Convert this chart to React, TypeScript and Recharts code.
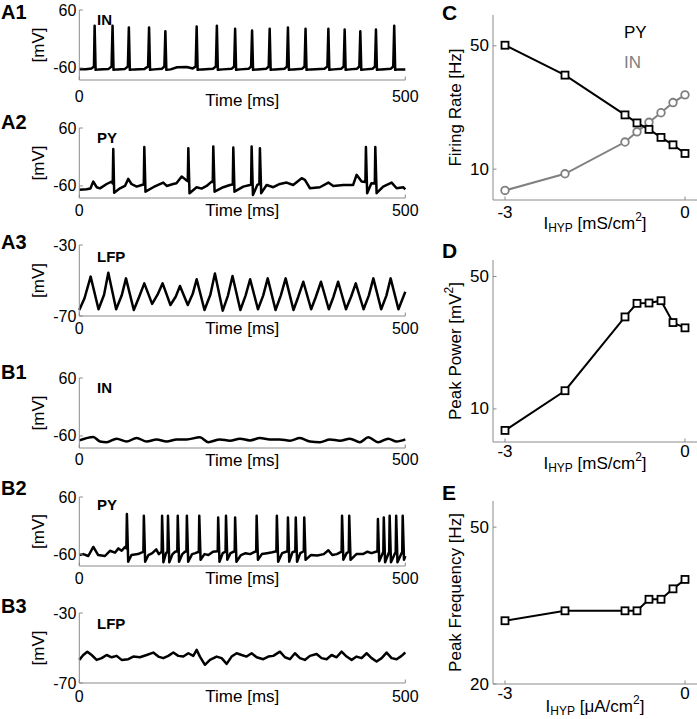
import React from 'react';
import { LineChart, Line, XAxis, YAxis, Label } from 'recharts';

const FONT = '"Liberation Sans", Arial, Helvetica, sans-serif';
const AXIS = '#8a8a8a';
const GRAY = '#808080';

// ---------- traces: [time ms, voltage mV] ----------
const A1_IN: number[][] = [
  [0,-62.5],[10,-62.5],[19,-61],[22.5,-57],[23.5,27.6],[25,-64],[30,-63],[45,-62],[49.5,-57],[51,27.6],[52.5,-64],[58,-63],
  [70,-62],[74.5,-57],[76,24],[77.5,-64],[84,-63],[100,-62],[105.5,-57],[107,24],[108.5,-64],[115,-63],[127,-61.5],[130.5,-57],
  [132,16],[133.5,-64],[140,-63],[150,-58.5],[165,-58],[174,-61],[178.5,-57],[180,26],[181.5,-64],[188,-63],[205,-61.5],
  [209.5,-57],[211,27.6],[212.5,-64],[220,-63],[234,-61.5],[237.5,-57],[239,21],[240.5,-64],[247,-63],[260,-61.5],[263.5,-57],
  [265,17.5],[266.5,-64],[273,-63],[287,-61.5],[290.5,-57],[292,21],[293.5,-64],[300,-63],[315,-61.5],[318.5,-57],[320,24],
  [321.5,-64],[328,-63],[342,-61.5],[345.5,-57],[347,21],[348.5,-64],[355,-63],[376,-61.5],[380.5,-57],[382,21],[383.5,-64],
  [390,-63],[402,-61.5],[405.5,-57],[407,19.5],[408.5,-64],[415,-63],[426,-61.5],[429.5,-57],[431,16],[432.5,-64],[439,-63],
  [450,-61.5],[453.5,-57],[455,19.5],[456.5,-64],[463,-63],[478,-61.5],[481.5,-57],[483,27.6],[484.5,-64],[491,-63],[500,-63],
];

const A2_PY: number[][] = [
  [0,-68],[11,-67],[17,-65.5],[21.5,-51],[26.6,-62.7],[31.7,-65],[42,-56],[49.6,-51],[51.3,-55],[52.1,16.3],[53.5,-74],
  [62.4,-65],[70,-60],[75.1,-45.4],[80,-56],[88,-61.4],[95.6,-58],[98.9,-57],[99.7,20.4],[101.5,-71.8],[113.5,-62.7],
  [121,-58],[128.8,-53],[134,-60],[139,-58],[144,-56],[149,-54.4],[157,-40.5],[163.5,-47.5],[166.4,-50],[167.2,18.3],
  [169,-75],[180,-62.7],[187.6,-65.5],[195.3,-60],[203,-51],[204.7,-52],[205.5,21.9],[207.5,-71.8],[220.8,-62.7],[231,-58],
  [235.4,-57],[236.2,19.7],[238,-71.8],[251.5,-61.4],[261.7,-58],[263.5,-57],[264.3,21.9],[266.3,-78.7],[273,-58],
  [276.2,-56],[277,18.3],[279,-75],[287.3,-58],[297.5,-62.7],[307.7,-55.8],[318,-53],[328,-58],[341,-44],[346,-47.5],
  [353.8,-64.8],[369,-62.7],[382,-53],[389.5,-60],[405,-58],[420,-58],[425.3,-37],[433,-51],[438.8,-52],[439.6,20.4],
  [441.5,-75],[448,-54.4],[453.2,-55],[454,20.4],[456,-75],[466,-61.4],[479,-53],[486.7,-64.8],[497,-62.7],[500,-67],
];

const A3_LFP: number[][] = [
  [0,-66.6],[8,-60],[17.4,-47.8],[29.5,-66.2],[38,-58],[44.5,-45.6],[56.5,-66.2],[65,-58.5],[71.6,-48.8],[83.6,-66.6],
  [92,-59],[99.7,-51.6],[111.7,-63.2],[120,-58],[127.8,-51.6],[139.8,-63.8],[148,-59],[154.4,-53.1],[166.4,-63.8],
  [174,-57.5],[180,-49.3],[192,-66.6],[201,-58],[208,-46],[220,-67],[228,-58.5],[235,-47.5],[247,-66.6],[255,-58.5],
  [262,-49.3],[274,-66.2],[282,-58.5],[289,-48.8],[301,-66.6],[309,-58.5],[316.5,-48.8],[328.5,-66.6],[336,-59],
  [343.6,-50.7],[355.6,-66.2],[363,-59],[370.7,-50.7],[382.7,-66.2],[390,-59],[397,-50.7],[409,-66.2],[417,-59],
  [424,-51.6],[436,-66.2],[444,-58.5],[451,-48.8],[463,-66.2],[471,-58.5],[477.5,-48.8],[489.5,-66.2],[500,-56.3],
];

const B1_IN: number[][] = [
  [0,-69.3],[21.5,-62.1],[31.7,-71.5],[41.9,-72.9],[57.3,-65.7],[72.6,-71.5],[87.9,-64.3],[103.3,-71.5],[118.6,-67.2],
  [134,-71.5],[149.3,-67.2],[164.6,-67.2],[185,-62.8],[197.8,-72.9],[215.7,-67.2],[231,-70],[246.4,-65.7],[261.7,-69.3],
  [277,-64.3],[292.4,-67.2],[307.7,-67.2],[323,-70],[338.4,-64.3],[353.7,-71.5],[369,-72.9],[384.4,-67.2],[399.8,-70],
  [415,-65.7],[430.4,-72.9],[443.2,-62.8],[458.5,-72.9],[473.9,-65.7],[486.7,-71.5],[500,-67.2],
];

const B2_PY: number[][] = [
  [0,-62],[6,-60],[13.8,-64],[21.5,-45],[29,-62],[39.4,-64],[47,-53],[54.7,-57],[60,-48],[65,-53],[70,-45],[72.2,-48],
  [73,24.3],[75,-76],[80,-62],[90,-60],[97,-56],[98.3,-55],
  [99,20.7],[101,-76],[106,-62],[112,-58],[118,-50],[122,-60],[126.3,-55],
  [127,20.7],[129,-77],[133,-58],[135.3,-55],
  [136,20.7],[138,-77],[143,-60],[147,-55],[150.3,-54],
  [151,20.7],[153,-76],[158,-60],[162,-55],[164.3,-54],
  [165,20.7],[167,-76],[173,-60],[178,-58],[183.3,-55],
  [184,20.7],[186,-72],[192,-60],[198,-62],[205,-55],[212.3,-54],
  [213,17.1],[215,-76],[220,-58],[224.3,-55],
  [225,20.7],[227,-72],[232,-58],[238.3,-54],
  [239,17.1],[241,-76],[248,-62],[255,-58],[262,-60],[268,-56],[271.3,-54],
  [272,20.7],[274,-72],[280,-60],[288,-58],[296,-56],[302.3,-54],
  [303,20.7],[305,-76],[311,-58],[319.3,-54],
  [320,17.1],[322,-76],[327,-56],[331.3,-54],
  [332,17.1],[334,-76],[339,-58],[344.3,-54],
  [345,17.1],[347,-72],[355,-62],[365,-63],[375,-60],[382,-52],[388,-62],[395,-60],[402.3,-55],
  [403,20.7],[405,-72],[410,-58],[413.3,-55],
  [414,20.7],[416,-72],[425,-60],[435,-60],[442,-55],[448,-58],[457.3,-54],
  [458,13.6],[460,-75],[466.3,-55],
  [467,17.1],[469,-77],[475.3,-55],
  [476,20.7],[478,-77],[485.3,-55],
  [486,20.7],[488,-77],[495.3,-55],
  [496,20.7],[498,-72],[500,-64],
];

const B3_LFP: number[][] = [
  [0,-56.8],[6.1,-54],[12.3,-52.1],[18.9,-54],[26.6,-56.8],[34.3,-55.8],[41.9,-54],[49.6,-55.3],[57.3,-54.5],[64.9,-56.8],
  [75.1,-56.4],[82.8,-54.9],[93,-55.3],[103.3,-54],[113.5,-52.6],[121.2,-54.9],[128.8,-55.8],[136.5,-54.5],[144.2,-52.6],
  [151.8,-54.5],[159.5,-54.9],[167.2,-53],[174.8,-54.5],[180,-51.1],[185,-54.9],[192.7,-59.6],[200.4,-56.8],[210.6,-54.9],
  [218.3,-55.8],[226,-59.1],[233.6,-54.9],[241.3,-53],[249,-54],[256.6,-54.9],[264.3,-53],[272,-55.3],[282.2,-56.4],
  [289.9,-54.9],[297.5,-54.5],[307.7,-52.1],[315.4,-55.3],[323,-56.4],[330.7,-53],[338.4,-55.8],[346,-56.8],[353.7,-54.5],
  [364,-53.4],[371.6,-55.8],[379.3,-56.4],[387,-54],[394.6,-55.3],[402.3,-52.1],[410,-54.9],[417.7,-56.8],[425.3,-54.9],
  [433,-55.8],[440.7,-53],[448.3,-55.8],[456,-57.7],[463.7,-55.8],[471.3,-52.6],[479,-55.8],[486.7,-56.4],[494.3,-54.5],
  [500,-52.6],
];

const TIME_TICKS = [0, 500];
const SPIKE_DOMAIN = [-85, 60];
const SPIKE_TICKS = [-60, 60];
const LFP_DOMAIN = [-70, -30];
const LFP_TICKS = [-70, -30];

// ---------- right column ----------
const I_HYP = [-3, -2, -1, -0.8, -0.6, -0.4, -0.2, 0];
const RATE_PY = [50.2, 40.5, 27.6, 25.0, 22.9, 20.3, 17.9, 15.1];
const RATE_IN = [3.1, 8.5, 18.8, 22.1, 25.2, 28.3, 31.6, 34.1];
const PEAK_POWER = [3.5, 15.5, 37.8, 41.9, 42.0, 42.7, 36.1, 34.5];
const PEAK_FREQ = [32.1, 34.0, 34.0, 34.0, 36.2, 36.2, 38.2, 40.0];
const I_TICKS = [-3, 0];

const toRows = (pts: number[][]) => pts.map(([t, v]) => ({ t, v }));

const makeXTick = (off: number, fs: number) => (p: any) => (
  <g key={`xt-${p.payload.value}`}>
    <line x1={p.x} x2={p.x} y1={p.y - off} y2={p.y - off - 3.5} stroke={AXIS} strokeWidth={1} />
    <text x={p.x} y={p.y} textAnchor="middle" dominantBaseline="central" fontSize={fs} fontFamily={FONT} fill="#000">
      {p.payload.value}
    </text>
  </g>
);

const makeYTick = (m: number, fs: number) => (p: any) => (
  <g key={`yt-${p.payload.value}`}>
    <line x1={p.x + m} x2={p.x + m + 3.5} y1={p.y} y2={p.y} stroke={AXIS} strokeWidth={1} />
    <text x={p.x} y={p.y} textAnchor="end" dominantBaseline="central" fontSize={fs} fontFamily={FONT} fill="#000">
      {p.payload.value}
    </text>
  </g>
);

function TracePanel({ top, h, pts, domain, ticks, tickOff, titleOff, curve }: any) {
  const H = 10 + h + 40;
  return (
    <div style={{ position: 'absolute', left: 0, top: top - 10, width: 420, height: H }}>
      <LineChart width={420} height={H} data={toRows(pts)} margin={{ top: 10, right: 14.7, bottom: 0, left: 0 }}>
        <XAxis
          type="number" dataKey="t" domain={[0, 500]} ticks={TIME_TICKS} interval={0} height={40}
          axisLine={{ stroke: AXIS, strokeWidth: 1 }} tickLine={false} tickSize={0} tickMargin={tickOff}
          tick={makeXTick(tickOff, 16)}
        >
          <Label
            content={(p: any) => {
              const vb = p.viewBox;
              return (
                <text x={vb.x + vb.width / 2} y={vb.y + titleOff} textAnchor="middle" dominantBaseline="central"
                  fontSize={17} fontFamily={FONT} fill="#000">Time [ms]</text>
              );
            }}
          />
        </XAxis>
        <YAxis
          type="number" domain={domain} ticks={ticks} interval={0} width={79.3} allowDataOverflow
          axisLine={{ stroke: AXIS, strokeWidth: 1 }} tickLine={false} tickSize={0} tickMargin={3}
          tick={makeYTick(3, 16)}
        >
          <Label
            content={(p: any) => {
              const vb = p.viewBox;
              const cx = vb.x + vb.width - 41;
              const cy = vb.y + vb.height / 2;
              return (
                <text x={cx} y={cy} transform={`rotate(-90 ${cx} ${cy})`} textAnchor="middle" dominantBaseline="central"
                  fontSize={17} fontFamily={FONT} fill="#000">[mV]</text>
              );
            }}
          />
        </YAxis>
        <Line type={curve || 'linear'} dataKey="v" stroke="#000" strokeWidth={2.5} dot={false} activeDot={false}
          isAnimationActive={false} strokeLinejoin="round" />
      </LineChart>
    </div>
  );
}

const squareDot = (color: string) => (p: any) => (
  <rect key={`sq-${p.index}`} x={p.cx - 3.5} y={p.cy - 3.5} width={7} height={7} fill="#fff" stroke={color} strokeWidth={1.8} />
);
const circleDot = (color: string) => (p: any) => (
  <circle key={`ci-${p.index}`} cx={p.cx} cy={p.cy} r={3.8} fill="#fff" stroke={color} strokeWidth={1.8} />
);

const xTitle = (unit: string, off: number) => (p: any) => {
  const vb = p.viewBox;
  return (
    <text x={vb.x + vb.width / 2} y={vb.y + off} textAnchor="middle" dominantBaseline="central"
      fontSize={17} fontFamily={FONT} fill="#000">
      I<tspan fontSize={12} dy={5}>HYP</tspan>
      <tspan dy={-5}> [{unit}/cm</tspan>
      <tspan fontSize={12} dy={-6}>2</tspan>
      <tspan dy={6}>]</tspan>
    </text>
  );
};

function RightPanel({ top, plotTop, plotH, xh, rows, domain, ticks, tickOff, titleOff, unit, yTitle, children }: any) {
  const mt = plotTop - top;
  const H = mt + plotH + xh;
  return (
    <div style={{ position: 'absolute', left: 420, top, width: 277, height: H }}>
      <LineChart width={277} height={H} data={rows} margin={{ top: mt, right: 0, bottom: 0, left: 0 }}>
        <XAxis
          type="number" dataKey="x" domain={[-3.2, 0.2]} ticks={I_TICKS} interval={0} height={xh} allowDataOverflow
          axisLine={{ stroke: AXIS, strokeWidth: 1 }} tickLine={false} tickSize={0} tickMargin={tickOff}
          tick={makeXTick(tickOff, 17)}
        >
          <Label content={xTitle(unit, titleOff)} />
        </XAxis>
        <YAxis
          type="number" domain={domain} ticks={ticks} interval={0} width={73} allowDataOverflow
          axisLine={{ stroke: AXIS, strokeWidth: 1 }} tickLine={false} tickSize={0} tickMargin={4}
          tick={makeYTick(4, 17)}
        >
          <Label
            content={(p: any) => {
              const vb = p.viewBox;
              const cx = vb.x + vb.width - 38;
              const cy = vb.y + vb.height / 2;
              return (
                <text x={cx} y={cy} transform={`rotate(-90 ${cx} ${cy})`} textAnchor="middle" dominantBaseline="central"
                  fontSize={17} fontFamily={FONT} fill="#000">{yTitle}</text>
              );
            }}
          />
        </YAxis>
        {children}
      </LineChart>
    </div>
  );
}

export default function App() {
  const cRows = I_HYP.map((x, i) => ({ x, py: RATE_PY[i], inn: RATE_IN[i] }));
  const dRows = I_HYP.map((x, i) => ({ x, p: PEAK_POWER[i] }));
  const eRows = I_HYP.map((x, i) => ({ x, f: PEAK_FREQ[i] }));

  const bold = { fontFamily: FONT, fontWeight: 700 as const, fill: '#000' };

  return (
    <div style={{ position: 'absolute', left: 0, top: 0, width: 697, height: 719, background: '#fff', overflow: 'hidden' }}>
      <TracePanel top={10} h={70} pts={A1_IN} domain={SPIKE_DOMAIN} ticks={SPIKE_TICKS} tickOff={16} titleOff={20} />
      <TracePanel top={128} h={70} pts={A2_PY} domain={SPIKE_DOMAIN} ticks={SPIKE_TICKS} tickOff={12} titleOff={12} />
      <TracePanel top={245} h={71} pts={A3_LFP} domain={LFP_DOMAIN} ticks={LFP_TICKS} tickOff={12} titleOff={12} />
      <TracePanel top={378} h={70} pts={B1_IN} domain={SPIKE_DOMAIN} ticks={SPIKE_TICKS} tickOff={11} titleOff={12} curve="monotone" />
      <TracePanel top={497} h={69} pts={B2_PY} domain={SPIKE_DOMAIN} ticks={SPIKE_TICKS} tickOff={12} titleOff={12} />
      <TracePanel top={613} h={70} pts={B3_LFP} domain={LFP_DOMAIN} ticks={LFP_TICKS} tickOff={13} titleOff={13} />

      <RightPanel top={0} plotTop={15} plotH={185} xh={40} rows={cRows} domain={[0, 60]} ticks={[10, 50]}
        tickOff={12} titleOff={23} unit="mS" yTitle="Firing Rate [Hz]">
        <Line type="linear" dataKey="inn" stroke={GRAY} strokeWidth={2} dot={circleDot(GRAY)} activeDot={false} isAnimationActive={false} />
        <Line type="linear" dataKey="py" stroke="#000" strokeWidth={2} dot={squareDot('#000')} activeDot={false} isAnimationActive={false} />
      </RightPanel>

      <RightPanel top={240} plotTop={260} plotH={182} xh={37} rows={dRows} domain={[0, 55]} ticks={[10, 50]}
        tickOff={9} titleOff={21} unit="mS"
        yTitle={<>Peak Power [mV<tspan fontSize={12} dy={-6}>2</tspan><tspan dy={6}>]</tspan></>}>
        <Line type="linear" dataKey="p" stroke="#000" strokeWidth={2} dot={squareDot('#000')} activeDot={false} isAnimationActive={false} />
      </RightPanel>

      <RightPanel top={480} plotTop={501} plotH={183} xh={35} rows={eRows} domain={[20, 55]} ticks={[20, 50]}
        tickOff={9} titleOff={22} unit="μA" yTitle="Peak Frequency [Hz]">
        <Line type="linear" dataKey="f" stroke="#000" strokeWidth={2} dot={squareDot('#000')} activeDot={false} isAnimationActive={false} />
      </RightPanel>

      <svg width={697} height={719} style={{ position: 'absolute', left: 0, top: 0, pointerEvents: 'none' }}>
        <g fontSize={20} {...bold}>
          <text x={1} y={12} dominantBaseline="central">A1</text>
          <text x={1} y={122} dominantBaseline="central">A2</text>
          <text x={1} y={242} dominantBaseline="central">A3</text>
          <text x={1} y={372} dominantBaseline="central">B1</text>
          <text x={1} y={488} dominantBaseline="central">B2</text>
          <text x={1} y={606} dominantBaseline="central">B3</text>
          <text x={442} y={12} dominantBaseline="central" fontSize={21}>C</text>
          <text x={442} y={250} dominantBaseline="central" fontSize={21}>D</text>
          <text x={442} y={492} dominantBaseline="central" fontSize={21}>E</text>
        </g>
        <g fontSize={15} {...bold}>
          <text x={97} y={19} dominantBaseline="central">IN</text>
          <text x={97} y={137} dominantBaseline="central">PY</text>
          <text x={97} y={256} dominantBaseline="central">LFP</text>
          <text x={97} y={387} dominantBaseline="central">IN</text>
          <text x={97} y={504} dominantBaseline="central">PY</text>
          <text x={97} y={623} dominantBaseline="central">LFP</text>
        </g>
        <text x={624} y={32} dominantBaseline="central" fontSize={17} fontFamily={FONT} fill="#000">PY</text>
        <text x={624} y={62} dominantBaseline="central" fontSize={17} fontFamily={FONT} fill={GRAY}>IN</text>
      </svg>
    </div>
  );
}
